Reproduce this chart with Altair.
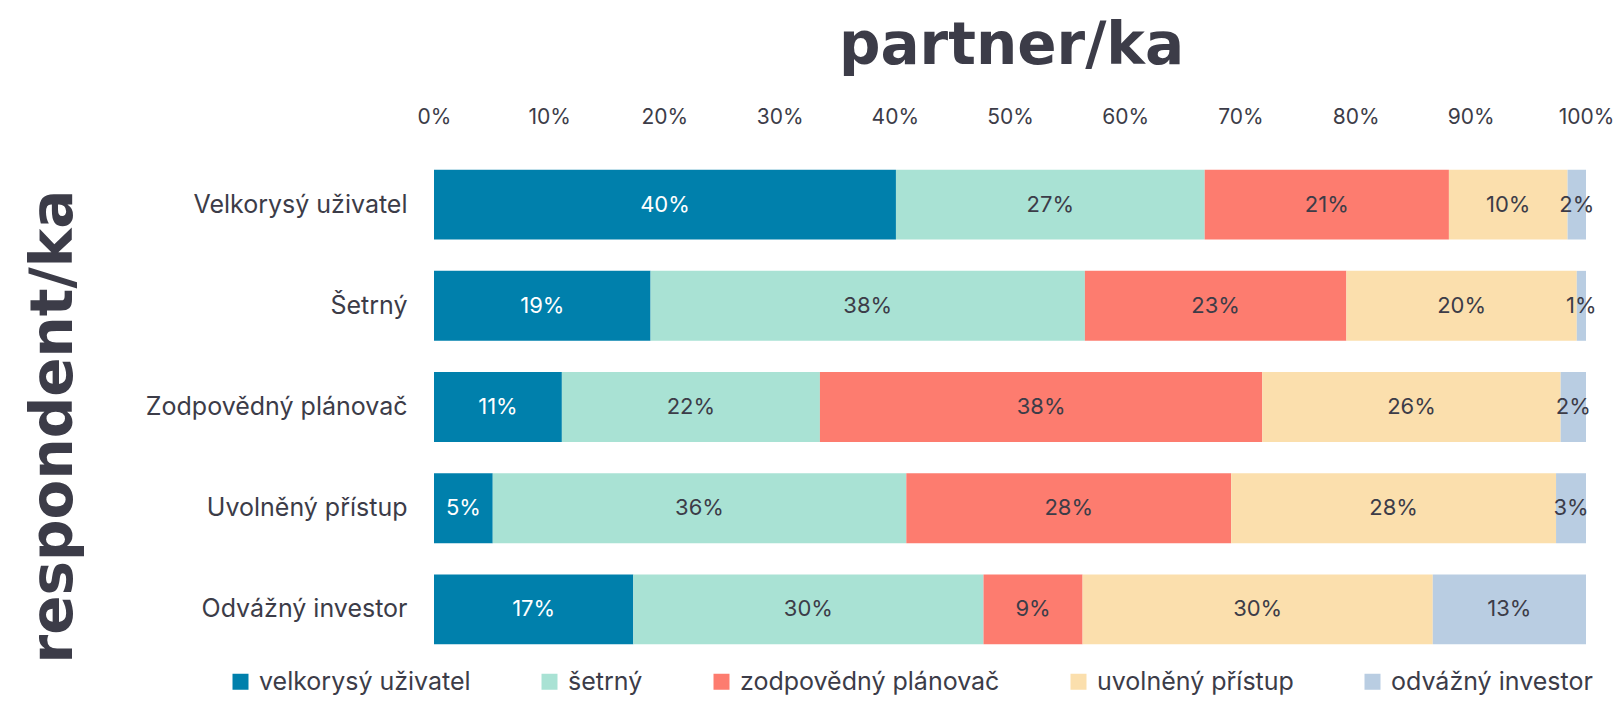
import altair as alt
import pandas as pd

respondents = ["Velkorysý uživatel", "Šetrný", "Zodpovědný plánovač", "Uvolněný přístup", "Odvážný investor"]
partners = ["velkorysý uživatel", "šetrný", "zodpovědný plánovač", "uvolněný přístup", "odvážný investor"]
colors = ["#0080AC", "#A9E2D4", "#FD7C6F", "#FBDFAD", "#B9CDE2"]

# share of each partner type, one value per respondent row
velkorysy = [0.401, 0.188, 0.111, 0.051, 0.173]
setrny = [0.268, 0.377, 0.224, 0.359, 0.304]
zodpovedny = [0.212, 0.227, 0.384, 0.282, 0.086]
uvolneny = [0.103, 0.200, 0.259, 0.282, 0.304]
odvazny = [0.016, 0.008, 0.022, 0.026, 0.133]

series = [velkorysy, setrny, zodpovedny, uvolneny, odvazny]
rows = []
for k, (p, vals) in enumerate(zip(partners, series)):
    for r, v in zip(respondents, vals):
        rows.append({"respondent": r, "partner": p, "order": k, "value": v})
df = pd.DataFrame(rows)

DARK = "#3C3C48"
FONT = "Inter"
TITLE_FONT = "DejaVu Sans"

base = alt.Chart(df).transform_stack(
    stack="value", as_=["x0", "x1"], groupby=["respondent"], sort=[alt.SortField("order")]
).transform_calculate(mid="(datum.x0 + datum.x1) / 2")

y_enc = alt.Y(
    "respondent:N",
    sort=respondents,
    scale=alt.Scale(paddingInner=0.309, paddingOuter=0.155),
    axis=alt.Axis(
        title="respondent/ka",
        titleAngle=270,
        titleX=-363,
        titleY=272,
        titleAlign="center",
        titleBaseline="alphabetic",
        titleFont=TITLE_FONT,
        titleFontSize=58,
        titleFontWeight="bold",
        titleColor=DARK,
        labelFontSize=25,
        labelColor=DARK,
        labelPadding=27,
        labelLimit=400,
        ticks=False,
        domain=False,
    ),
)

bars = base.mark_bar().encode(
    y=y_enc,
    x=alt.X(
        "x0:Q",
        scale=alt.Scale(domain=[0, 1], nice=False),
        axis=alt.Axis(
            orient="top",
            format=".0%",
            values=[i / 10 for i in range(11)],
            title="partner/ka",
            titleX=577,
            titleY=-91,
            titleAlign="center",
            titleBaseline="alphabetic",
            titleFont=TITLE_FONT,
            titleFontSize=58,
            titleFontWeight="bold",
            titleColor=DARK,
            labelFontSize=21,
            labelColor=DARK,
            labelPadding=31,
            labelBaseline="alphabetic",
            labelFlush=False,
            ticks=False,
            domain=False,
            grid=False,
        ),
    ),
    x2="x1:Q",
    color=alt.Color(
        "partner:N",
        sort=partners,
        scale=alt.Scale(domain=partners, range=colors),
        legend=alt.Legend(
            title=None,
            orient="none",
            legendX=-206,
            legendY=515,
            direction="horizontal",
            columns=5,
            symbolType="square",
            symbolSize=256,
            symbolStrokeWidth=0,
            symbolOpacity=1,
            labelFontSize=25,
            labelColor=DARK,
            labelOffset=6,
            labelLimit=400,
            columnPadding=66,
        ),
    ),
)

labels = base.mark_text(fontSize=22, font=FONT).encode(
    y=alt.Y("respondent:N", sort=respondents),
    x=alt.X("mid:Q"),
    text=alt.Text("value:Q", format=".0%"),
    color=alt.condition(alt.datum.order == 0, alt.value("white"), alt.value(DARK)),
)

chart = (
    alt.layer(bars, labels)
    .properties(
        width=1152,
        height=506,
        padding={"left": 426, "top": 146, "right": 29, "bottom": 35},
        autosize=alt.AutoSizeParams(type="none"),
    )
    .configure(font=FONT)
    .configure_view(stroke=None)
)

chart.save("out.html", embed_options={"renderer": "svg", "actions": False})
